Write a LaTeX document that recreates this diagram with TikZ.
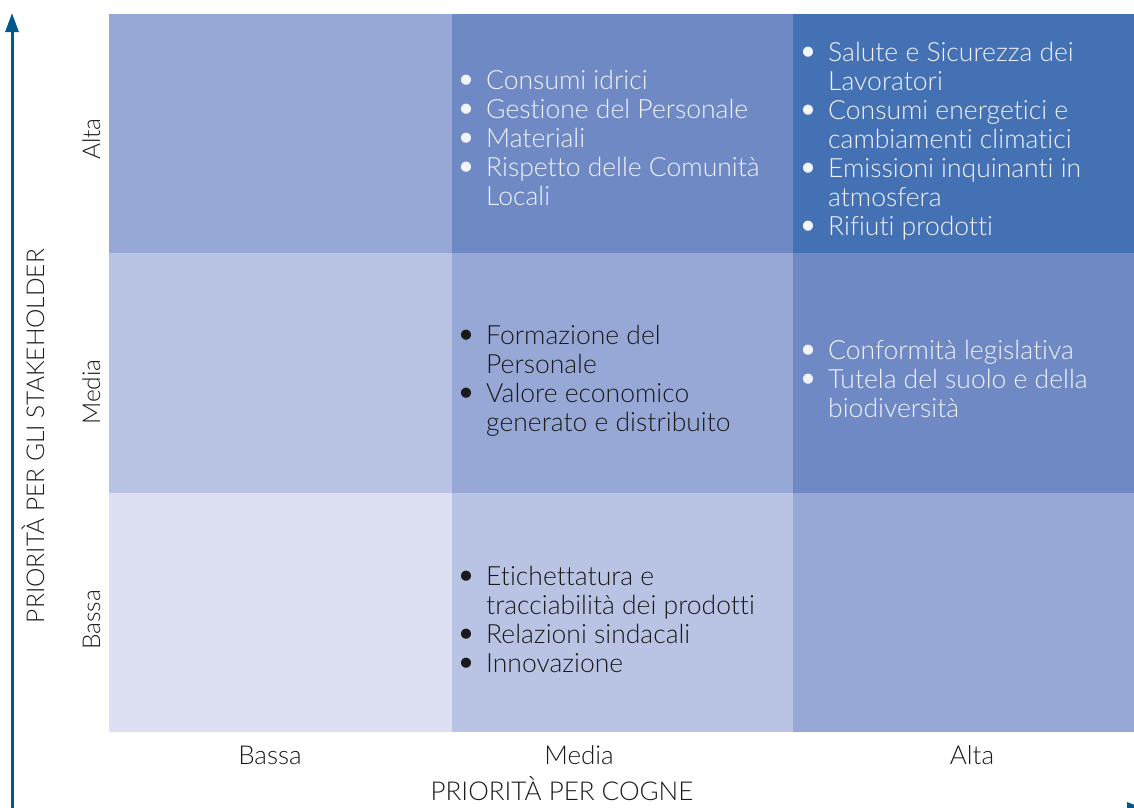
\documentclass[tikz,border=0pt]{standalone}
\usepackage{fontspec}
\setmainfont{Lato}[Ligatures={NoCommon}, UprightFont={* Light}]
\usetikzlibrary{arrows.meta}
\definecolor{cA}{HTML}{DDE0F2}
\definecolor{cB}{HTML}{B9C3E3}
\definecolor{cC}{HTML}{97A8D6}
\definecolor{cD}{HTML}{6F89C5}
\definecolor{cE}{HTML}{4470B4}
\definecolor{axisblue}{HTML}{005A8C}
\definecolor{lighttext}{HTML}{F2F4FB}
\definecolor{darktext}{HTML}{1A1A1A}
\newcommand{\itemlist}[1]{\begin{tabular}[t]{@{}p{30pt}@{}l@{}}#1\end{tabular}}
\newcommand{\bul}{\smash{\raisebox{-1.5pt}{\scalebox{1.3}{\textbullet}}}}
\tikzset{
  cell/.style={draw=none, inner sep=0pt, outer sep=0pt, anchor=north west, minimum width=341pt, minimum height=239pt},
  listtext/.style={anchor=base west, inner sep=0pt, align=left, font=\fontsize{26.5}{29}\selectfont},
  axislabel/.style={inner sep=0pt, text=darktext, font=\fontsize{26}{29}\selectfont},
  vlabel/.style={axislabel, anchor=base, rotate=90, font=\fontsize{24.5}{29}\selectfont},
  axisline/.style={draw=axisblue, line width=3pt, -{Triangle[length=19pt,width=13pt]}}
}
\begin{document}
\begin{tikzpicture}[x=1pt,y=-1pt]
\useasboundingbox (0,0) rectangle (1134,807);
% cells
\node[cell, fill=cC, minimum width=343pt] (c11) at (109,14) {};
\node[cell, fill=cD] (c12) at (452,14) {};
\node[cell, fill=cE] (c13) at (793,14) {};
\node[cell, fill=cB, minimum width=343pt, minimum height=240pt] (c21) at (109,253) {};
\node[cell, fill=cC, minimum height=240pt] (c22) at (452,253) {};
\node[cell, fill=cD, minimum height=240pt] (c23) at (793,253) {};
\node[cell, fill=cA, minimum width=343pt] (c31) at (109,493) {};
\node[cell, fill=cB] (c32) at (452,493) {};
\node[cell, fill=cC] (c33) at (793,493) {};
% texts
\node[listtext, text=lighttext] (t12) at (456,89) {\itemlist{%
\bul & Consumi idrici\\
\bul & Gestione del Personale\\
\bul & Materiali\\
\bul & Rispetto delle Comunità\\
 & Locali}};
\node[listtext, text=lighttext] (t13) at (798,61) {\itemlist{%
\bul & Salute e Sicurezza dei\\
 & Lavoratori\\
\bul & Consumi energetici e\\
 & cambiamenti climatici\\
\bul & Emissioni inquinanti in\\
 & atmosfera\\
\bul & Rifiuti prodotti}};
\node[listtext, text=darktext] (t22) at (456,344) {\itemlist{%
\bul & Formazione del\\
 & Personale\\
\bul & Valore economico\\
 & generato e distribuito}};
\node[listtext, text=lighttext] (t23) at (798,359) {\itemlist{%
\bul & Conformità legislativa\\
\bul & Tutela del suolo e della\\
 & biodiversità}};
\node[listtext, text=darktext] (t32) at (456,585) {\itemlist{%
\bul & Etichettatura e\\
 & tracciabilità dei prodotti\\
\bul & Relazioni sindacali\\
\bul & Innovazione}};
% axis labels
\node[axislabel, anchor=base] (xb) at (270,764) {Bassa};
\node[axislabel, anchor=base] (xm) at (579,764) {Media};
\node[axislabel, anchor=base] (xa) at (972,764) {Alta};
\node[axislabel, anchor=base] (xt) at (562,800) {PRIORITÀ PER COGNE};
\node[vlabel] (ya) at (100,139) {Alta};
\node[vlabel] (ym) at (100,392) {Media};
\node[vlabel] (yb) at (100,620) {Bassa};
\node[vlabel] (yt) at (44,436) {PRIORITÀ PER GLI STAKEHOLDER};
% axes
\coordinate (o) at (12,809);
\coordinate (ytop) at (12,13);
\coordinate (xend) at (1146,809);
\draw[axisline] (o) -- (ytop);
\draw[axisline] (o) -- (xend);
\end{tikzpicture}
\end{document}
